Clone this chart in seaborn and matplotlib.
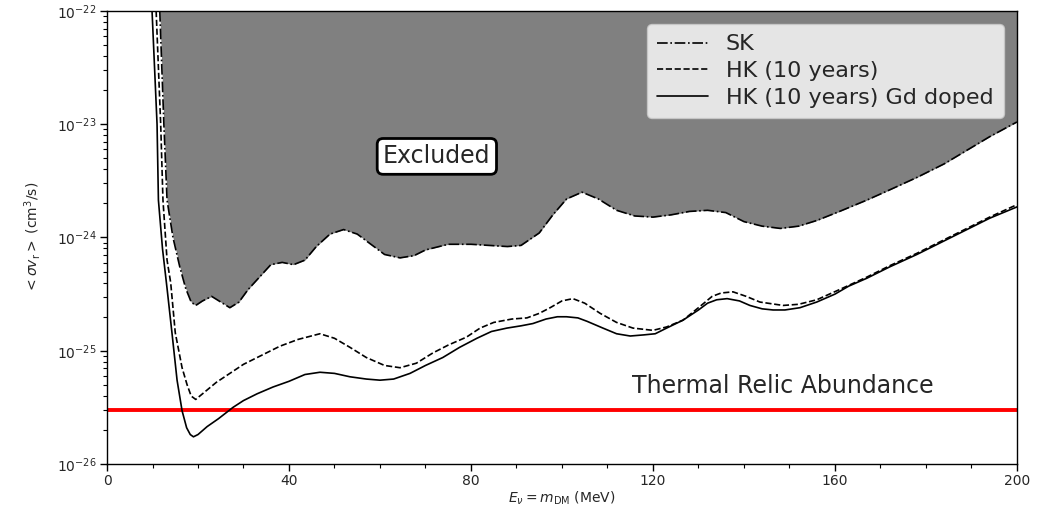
import numpy as np
import pandas as pd
import matplotlib
matplotlib.use("Agg")
import matplotlib.pyplot as plt
from matplotlib.ticker import AutoMinorLocator, LogLocator, NullFormatter
import seaborn as sns

# Sensitivity curves: neutrino energy (MeV) vs log10 of <sigma v> (cm^3/s)
sk_energy = [11.6, 12.5, 13.2, 14.5, 16.0, 17.3, 18.5, 19.5, 21.0, 23.0, 25.0, 27.0,
             29.0, 31.0, 33.5, 36.0, 38.5, 41.0, 43.5, 46.0, 49.0, 52.0, 55.0, 58.0,
             61.0, 64.4, 67.5, 70.0, 75.0, 80.0, 84.0, 88.0, 91.0, 95.0, 98.0, 101.0,
             104.4, 108.0, 112.0, 116.0, 120.0, 124.0, 128.0, 132.0, 136.0, 140.0,
             144.0, 148.0, 152.0, 156.0, 161.0, 167.0, 172.0, 178.0, 184.0, 189.0,
             194.0, 200.0]
sk_log_sigma = [-22.0, -23.0, -23.67, -24.0, -24.26, -24.45, -24.57, -24.6, -24.56,
                -24.52, -24.57, -24.62, -24.57, -24.46, -24.35, -24.24, -24.22, -24.24,
                -24.2, -24.08, -23.97, -23.93, -23.97, -24.06, -24.15, -24.18, -24.16,
                -24.11, -24.06, -24.06, -24.07, -24.08, -24.07, -23.96, -23.8, -23.66,
                -23.6, -23.66, -23.76, -23.81, -23.82, -23.8, -23.77, -23.76, -23.78,
                -23.86, -23.9, -23.92, -23.9, -23.85, -23.77, -23.67, -23.58, -23.47,
                -23.35, -23.23, -23.11, -22.98]

hk_energy = [10.8, 11.8, 12.3, 13.2, 14.0, 15.0, 16.5, 17.6, 18.5, 19.5, 21.0, 24.0,
             27.0, 30.0, 34.0, 38.0, 42.0, 46.8, 50.0, 53.4, 57.0, 61.0, 64.4, 68.0,
             71.6, 75.0, 79.0, 82.0, 85.0, 89.0, 92.3, 95.0, 97.4, 100.0, 102.4, 105.0,
             108.4, 112.0, 115.6, 120.0, 123.0, 126.6, 130.3, 133.0, 135.0, 137.6,
             140.5, 143.5, 148.6, 152.0, 156.0, 161.0, 167.0, 172.0, 178.0, 184.0,
             189.0, 194.0, 200.0]
hk_log_sigma = [-22.0, -23.0, -23.67, -24.2, -24.4, -24.84, -25.15, -25.3, -25.4,
                -25.43, -25.38, -25.28, -25.2, -25.12, -25.04, -24.96, -24.9, -24.85,
                -24.89, -24.97, -25.06, -25.13, -25.15, -25.11, -25.02, -24.95, -24.88,
                -24.8, -24.75, -24.72, -24.71, -24.67, -24.62, -24.56, -24.54, -24.58,
                -24.67, -24.75, -24.8, -24.82, -24.79, -24.73, -24.61, -24.52, -24.49,
                -24.48, -24.52, -24.57, -24.6, -24.59, -24.55, -24.46, -24.35, -24.25,
                -24.14, -24.02, -23.92, -23.82, -23.71]

gd_energy = [9.9, 11.0, 11.3, 12.2, 13.2, 14.3, 15.4, 16.5, 17.5, 18.3, 19.0, 20.0,
             22.0, 24.5, 27.7, 30.0, 33.0, 36.5, 40.0, 43.5, 46.8, 50.0, 53.4, 57.0,
             60.0, 63.0, 66.6, 70.0, 73.8, 77.5, 81.3, 84.5, 87.9, 91.0, 93.6, 96.5,
             99.0, 101.0, 103.5, 105.5, 109.0, 112.0, 115.0, 118.0, 120.5, 123.0,
             126.6, 130.0, 132.0, 134.0, 136.3, 139.0, 141.3, 144.0, 146.4, 149.0,
             152.3, 156.0, 160.0, 163.0, 167.0, 172.0, 178.0, 184.0, 189.0, 194.0,
             200.0]
gd_log_sigma = [-22.0, -23.0, -23.67, -24.1, -24.45, -24.85, -25.26, -25.53, -25.68,
                -25.74, -25.76, -25.74, -25.67, -25.6, -25.5, -25.44, -25.38, -25.32,
                -25.27, -25.21, -25.19, -25.2, -25.23, -25.25, -25.26, -25.25, -25.2,
                -25.13, -25.06, -24.97, -24.89, -24.83, -24.8, -24.78, -24.76, -24.72,
                -24.7, -24.7, -24.71, -24.74, -24.8, -24.85, -24.87, -24.86, -24.85,
                -24.8, -24.73, -24.64, -24.58, -24.55, -24.54, -24.56, -24.6, -24.63,
                -24.64, -24.64, -24.62, -24.57, -24.5, -24.43, -24.36, -24.26, -24.15,
                -24.03, -23.93, -23.83, -23.73]

series_labels = ["SK", "HK (10 years)", "HK (10 years) Gd doped"]
thermal_relic = 3e-26
y_top = 1e-22
y_ticks = [1e-26, 1e-25, 1e-24, 1e-23, 1e-22]
x_ticks = [0, 40, 80, 120, 160, 200]

sns.set_theme(style="ticks")
plt.rcParams["font.family"] = ["DejaVu Sans"]
plt.rcParams["mathtext.fontset"] = "dejavusans"

frames = []
for label, e, ls in zip(series_labels,
                        [sk_energy, hk_energy, gd_energy],
                        [sk_log_sigma, hk_log_sigma, gd_log_sigma]):
    frames.append(pd.DataFrame({"energy": e,
                                "sigma": 10.0 ** np.asarray(ls),
                                "experiment": label}))
data = pd.concat(frames, ignore_index=True)

fig = plt.figure(figsize=(10.47, 5.11), dpi=100)
ax = fig.add_axes([0.1022, 0.092, 0.8691, 0.8865])

# Excluded region above the SK limit
sk = data[data["experiment"] == "SK"]
ax.fill_between(sk["energy"], sk["sigma"], y_top, color="#808080", lw=0, zorder=1)

styles = {"SK": "-.", "HK (10 years)": "--", "HK (10 years) Gd doped": "-"}
for label in series_labels:
    sns.lineplot(data=data[data["experiment"] == label], x="energy", y="sigma",
                 color="black", lw=1.2, linestyle=styles[label], label=label,
                 sort=False, estimator=None, ax=ax, zorder=3)

ax.axhline(thermal_relic, color="red", lw=2.8, zorder=2)

ax.set_yscale("log")
ax.set_xlim(0, 200)
ax.set_ylim(1e-26, y_top)
ax.set_xticks(x_ticks)
ax.set_yticks(y_ticks)
ax.xaxis.set_minor_locator(AutoMinorLocator(4))
ax.yaxis.set_minor_locator(LogLocator(base=10, subs=np.arange(2, 10), numticks=20))
ax.yaxis.set_minor_formatter(NullFormatter())
ax.tick_params(axis="both", which="major", labelsize=10, length=5, width=1,
               color="black", direction="out", pad=2.5)
ax.tick_params(axis="both", which="minor", length=3, width=0.8, color="black")
for sp in ax.spines.values():
    sp.set_color("black")
    sp.set_linewidth(1.0)

ax.set_xlabel(r"$E_\nu = m_{\rm DM}$ (MeV)", fontsize=10, labelpad=1)
ax.set_ylabel(r"$<\sigma v_{\rm r}>$ (cm$^3$/s)", fontsize=10, labelpad=10)

ax.text(72.5, 5.2e-24, "Excluded", fontsize=17, ha="center", va="center",
        zorder=5, bbox=dict(boxstyle="round,pad=0.25", fc="white", ec="black", lw=2))
ax.text(115.5, 3.8e-26, "Thermal Relic Abundance", fontsize=17, ha="left",
        va="bottom", zorder=5)

leg = ax.legend(loc="upper right", fontsize=16, handlelength=2.3,
                borderaxespad=0.6, labelspacing=0.3, borderpad=0.45)
leg.set_zorder(6)

fig.savefig("out.png", dpi=100)
